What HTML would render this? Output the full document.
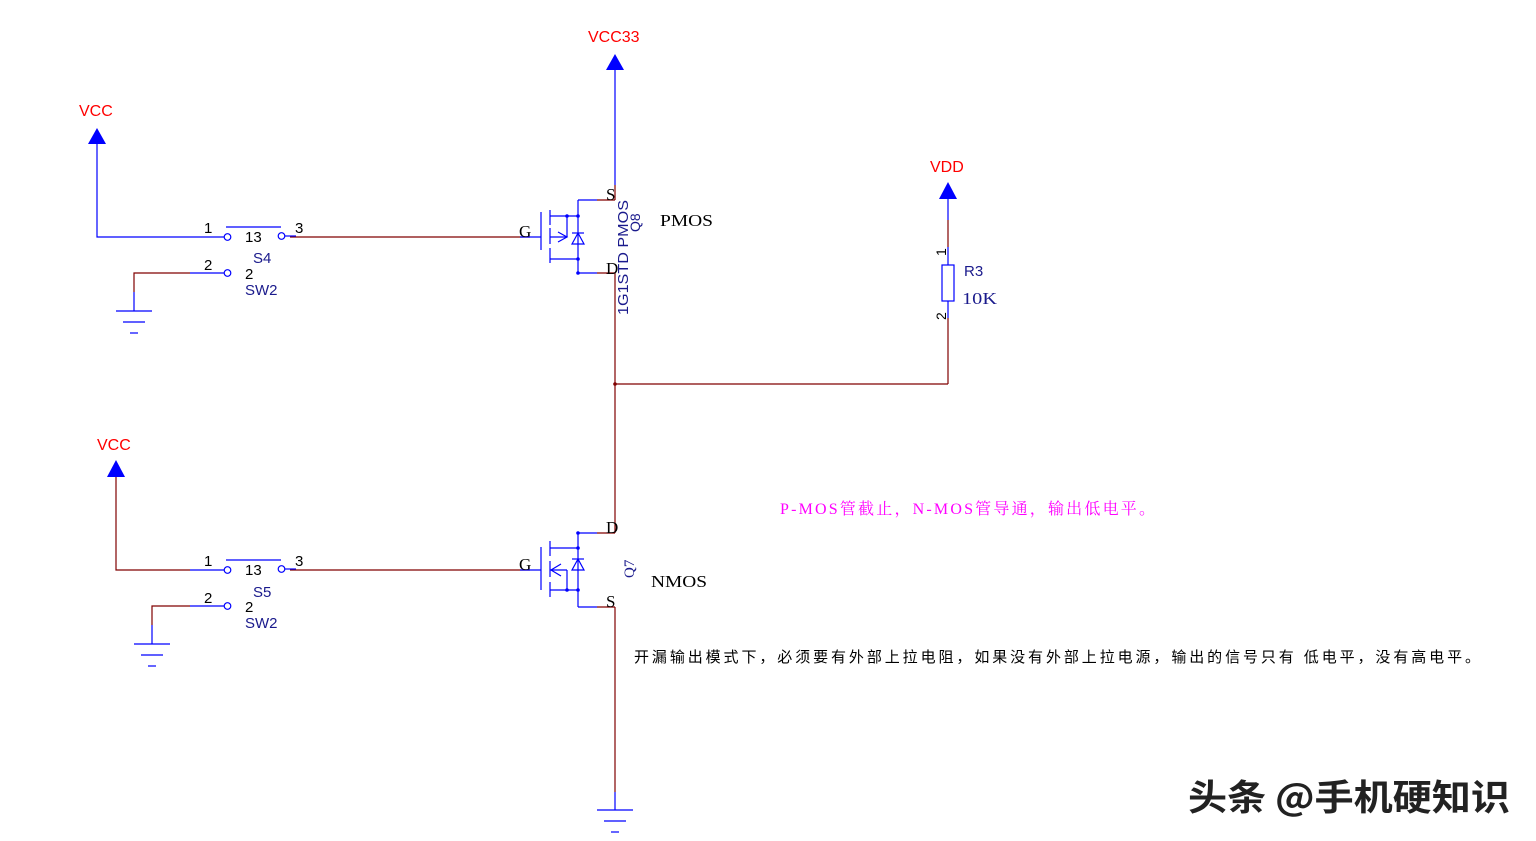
<!DOCTYPE html>
<html><head><meta charset="utf-8"><style>
html,body{margin:0;padding:0;background:#fff;}
svg{display:block;}
text{font-family:"Liberation Sans","Noto Sans CJK SC",sans-serif;}
text.serif{font-family:"Liberation Serif","Noto Serif CJK SC",serif;}
</style></head><body>
<svg width="1536" height="841" viewBox="0 0 1536 841" xmlns="http://www.w3.org/2000/svg">
<g fill="none" stroke-width="1.2">
<polygon points="615,54 606,70 624,70" fill="#0000ff" stroke="none"/>
<line x1="615" y1="70" x2="615" y2="185" stroke="#0000ff"/>
<line x1="615" y1="185" x2="615" y2="200" stroke="#800000"/>
<line x1="290" y1="237" x2="530" y2="237" stroke="#800000"/>
<line x1="520" y1="237" x2="541" y2="237" stroke="#0000ff"/>
<g stroke="#0000ff">
<line x1="541" y1="212" x2="541" y2="250"/>
<line x1="550" y1="210" x2="550" y2="225"/>
<line x1="550" y1="228" x2="550" y2="244"/>
<line x1="550" y1="248" x2="550" y2="263"/>
<line x1="550" y1="216" x2="578" y2="216"/>
<line x1="550" y1="259" x2="578" y2="259"/>
<line x1="567" y1="216" x2="567" y2="237"/>
<line x1="550" y1="237" x2="567" y2="237"/>
<polyline points="558,232 567,237 558,242"/>
<line x1="578" y1="200" x2="578" y2="273"/>
<line x1="578" y1="200" x2="597" y2="200"/>
<line x1="578" y1="273" x2="597" y2="273"/>
<polygon points="578,233 572,244 584,244"/>
<line x1="572" y1="233" x2="584" y2="233"/>
</g>
<line x1="597" y1="200" x2="615" y2="200" stroke="#800000"/>
<line x1="597" y1="273" x2="615" y2="273" stroke="#800000"/>
<line x1="615" y1="273" x2="615" y2="510" stroke="#800000"/>
<line x1="615" y1="384" x2="948" y2="384" stroke="#800000"/>
<polygon points="948,182 939,199 957,199" fill="#0000ff" stroke="none"/>
<line x1="948" y1="199" x2="948" y2="220" stroke="#0000ff"/>
<line x1="948" y1="220" x2="948" y2="247" stroke="#800000"/>
<line x1="948" y1="247" x2="948" y2="265" stroke="#0000ff"/>
<rect x="942" y="265" width="12" height="36" stroke="#0000ff"/>
<line x1="948" y1="301" x2="948" y2="318" stroke="#0000ff"/>
<line x1="948" y1="318" x2="948" y2="384" stroke="#800000"/>
<line x1="615" y1="510" x2="615" y2="533" stroke="#800000"/>
<line x1="597" y1="533" x2="615" y2="533" stroke="#800000"/>
<line x1="290" y1="570" x2="530" y2="570" stroke="#800000"/>
<line x1="520" y1="570" x2="541" y2="570" stroke="#0000ff"/>
<g stroke="#0000ff">
<line x1="541" y1="547" x2="541" y2="590"/>
<line x1="550" y1="541" x2="550" y2="556"/>
<line x1="550" y1="561" x2="550" y2="577"/>
<line x1="550" y1="582" x2="550" y2="597"/>
<line x1="550" y1="548" x2="578" y2="548"/>
<line x1="550" y1="590" x2="578" y2="590"/>
<line x1="567" y1="570" x2="567" y2="590"/>
<line x1="550" y1="570" x2="567" y2="570"/>
<polyline points="561,564 551,570 561,576"/>
<line x1="578" y1="533" x2="578" y2="607"/>
<line x1="578" y1="533" x2="597" y2="533"/>
<line x1="578" y1="607" x2="597" y2="607"/>
<polygon points="578,559 572,570 584,570"/>
<line x1="572" y1="559" x2="584" y2="559"/>
</g>
<line x1="597" y1="607" x2="615" y2="607" stroke="#800000"/>
<line x1="615" y1="607" x2="615" y2="792" stroke="#800000"/>
<line x1="615" y1="792" x2="615" y2="810" stroke="#0000ff"/>
<g stroke="#0000ff">
<line x1="597" y1="810" x2="633" y2="810"/>
<line x1="604" y1="821" x2="626" y2="821"/>
<line x1="611" y1="832" x2="619" y2="832"/>
</g>
<polygon points="97,128 88,144 106,144" fill="#0000ff" stroke="none"/>
<polyline points="97,144 97,237 190,237" stroke="#0000ff"/>
<line x1="190" y1="237" x2="224" y2="237" stroke="#0000ff"/>
<circle cx="227.5" cy="237" r="3.3" stroke="#0000ff"/>
<circle cx="281.5" cy="236" r="3.3" stroke="#0000ff"/>
<line x1="226" y1="227" x2="281" y2="227" stroke="#0000ff"/>
<line x1="285" y1="236" x2="296" y2="236" stroke="#0000ff"/>
<circle cx="227.5" cy="273" r="3.3" stroke="#0000ff"/>
<line x1="190" y1="273" x2="224" y2="273" stroke="#0000ff"/>
<polyline points="190,273 134,273 134,292" stroke="#800000"/>
<line x1="134" y1="292" x2="134" y2="311" stroke="#0000ff"/>
<g stroke="#0000ff">
<line x1="116" y1="311" x2="152" y2="311"/>
<line x1="123" y1="322" x2="145" y2="322"/>
<line x1="130" y1="333" x2="138" y2="333"/>
</g>
<polygon points="116,460 107,477 125,477" fill="#0000ff" stroke="none"/>
<polyline points="116,477 116,570 190,570" stroke="#800000"/>
<line x1="190" y1="570" x2="224" y2="570" stroke="#0000ff"/>
<circle cx="227.5" cy="570" r="3.3" stroke="#0000ff"/>
<circle cx="281.5" cy="569" r="3.3" stroke="#0000ff"/>
<line x1="226" y1="560" x2="281" y2="560" stroke="#0000ff"/>
<line x1="285" y1="569" x2="296" y2="569" stroke="#0000ff"/>
<circle cx="227.5" cy="606" r="3.3" stroke="#0000ff"/>
<line x1="190" y1="606" x2="224" y2="606" stroke="#0000ff"/>
<polyline points="190,606 152,606 152,625" stroke="#800000"/>
<line x1="152" y1="625" x2="152" y2="644" stroke="#0000ff"/>
<g stroke="#0000ff">
<line x1="134" y1="644" x2="170" y2="644"/>
<line x1="141" y1="655" x2="163" y2="655"/>
<line x1="148" y1="666" x2="156" y2="666"/>
</g>
</g>
<g fill="#0000ff">
<circle cx="578" cy="216" r="1.8"/><circle cx="578" cy="259" r="1.8"/><circle cx="578" cy="273" r="1.8"/>
<circle cx="567" cy="216" r="1.8"/>
<circle cx="578" cy="548" r="1.8"/><circle cx="578" cy="590" r="1.8"/><circle cx="567" cy="590" r="1.8"/>
<circle cx="578" cy="533" r="1.8"/>
</g>
<circle cx="615" cy="384" r="1.8" fill="#800000"/>
<g fill="#ff0000" font-size="16">
<text x="588" y="42">VCC33</text>
<text x="79" y="116">VCC</text>
<text x="97" y="450">VCC</text>
<text x="930" y="172">VDD</text>
</g>
<g font-size="17" fill="#000">
<text class="serif" x="519" y="237">G</text>
<text class="serif" x="606" y="200">S</text>
<text class="serif" x="606" y="274">D</text>
<text class="serif" x="519" y="570">G</text>
<text class="serif" x="606" y="533">D</text>
<text class="serif" x="606" y="607">S</text>
<text class="serif" x="660" y="226" textLength="53" lengthAdjust="spacingAndGlyphs">PMOS</text>
<text class="serif" x="651" y="587" textLength="56" lengthAdjust="spacingAndGlyphs">NMOS</text>
</g>
<g font-size="15" fill="#000">
<text x="204" y="233">1</text><text x="295" y="233">3</text>
<text x="204" y="270">2</text>
<text x="204" y="566">1</text><text x="295" y="566">3</text>
<text x="204" y="603">2</text>
<text x="245" y="242">13</text><text x="245" y="279">2</text>
<text x="245" y="575">13</text><text x="245" y="612">2</text>
</g>
<g font-size="15" fill="#1a1a8c">
<text x="253" y="263">S4</text><text x="245" y="295">SW2</text>
<text x="253" y="597">S5</text><text x="245" y="628">SW2</text>
<text x="964" y="276">R3</text>
</g>
<text x="962" y="304" font-size="17" class="serif" fill="#1a1a8c" textLength="35" lengthAdjust="spacingAndGlyphs">10K</text>
<text transform="translate(946,256) rotate(-90)" font-size="14" fill="#000">1</text>
<text transform="translate(946,320) rotate(-90)" font-size="14" fill="#000">2</text>
<text transform="translate(628,315) rotate(-90)" font-size="15" fill="#1a1a8c" textLength="115" lengthAdjust="spacingAndGlyphs">1G1STD PMOS</text>
<text transform="translate(640,232) rotate(-90)" font-size="14" fill="#1a1a8c">Q8</text>
<text transform="translate(634,578) rotate(-90)" font-size="15" class="serif" fill="#1a1a8c">Q7</text>
<text x="780" y="514" font-size="16" fill="#ff00ff" class="serif" textLength="375" lengthAdjust="spacing">P-MOS管截止，N-MOS管导通，输出低电平。</text>
<text x="634" y="662" font-size="15" fill="#000" textLength="846" lengthAdjust="spacing">开漏输出模式下，必须要有外部上拉电阻，如果没有外部上拉电源，输出的信号只有 低电平，没有高电平。</text>
<text x="1188" y="810" font-size="36" fill="#222" textLength="322" lengthAdjust="spacingAndGlyphs" style="font-family:'Noto Sans CJK SC',sans-serif;font-weight:bold">头条 @手机硬知识</text>
</svg>
</body></html>
